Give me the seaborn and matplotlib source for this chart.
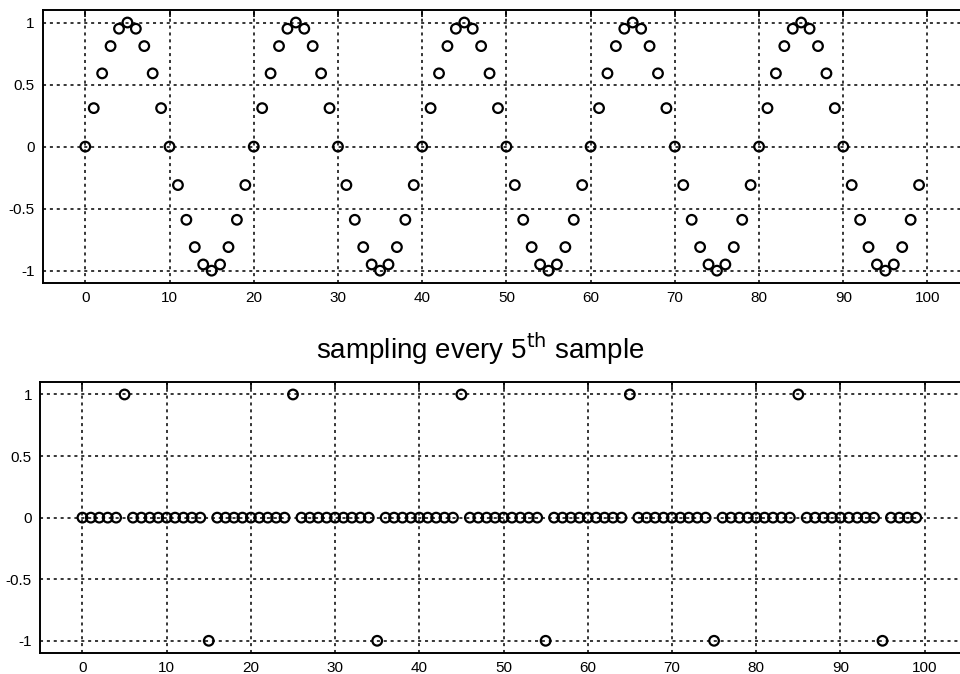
import matplotlib
matplotlib.use("Agg")
import matplotlib.pyplot as plt
import numpy as np
import pandas as pd
import seaborn as sns

# ============================================================
# DATA
# ============================================================

n = list(range(100))

# original signal, one row per period of 20 samples
signal = [
    0.0, 0.31, 0.59, 0.81, 0.95, 1.0, 0.95, 0.81, 0.59, 0.31,
    0.0, -0.31, -0.59, -0.81, -0.95, -1.0, -0.95, -0.81, -0.59, -0.31,
    0.0, 0.31, 0.59, 0.81, 0.95, 1.0, 0.95, 0.81, 0.59, 0.31,
    0.0, -0.31, -0.59, -0.81, -0.95, -1.0, -0.95, -0.81, -0.59, -0.31,
    0.0, 0.31, 0.59, 0.81, 0.95, 1.0, 0.95, 0.81, 0.59, 0.31,
    0.0, -0.31, -0.59, -0.81, -0.95, -1.0, -0.95, -0.81, -0.59, -0.31,
    0.0, 0.31, 0.59, 0.81, 0.95, 1.0, 0.95, 0.81, 0.59, 0.31,
    0.0, -0.31, -0.59, -0.81, -0.95, -1.0, -0.95, -0.81, -0.59, -0.31,
    0.0, 0.31, 0.59, 0.81, 0.95, 1.0, 0.95, 0.81, 0.59, 0.31,
    0.0, -0.31, -0.59, -0.81, -0.95, -1.0, -0.95, -0.81, -0.59, -0.31,
]

# every 5th sample kept, the rest set to zero
sampled = [
    0, 0, 0, 0, 0, 1, 0, 0, 0, 0, 0, 0, 0, 0, 0, -1, 0, 0, 0, 0,
    0, 0, 0, 0, 0, 1, 0, 0, 0, 0, 0, 0, 0, 0, 0, -1, 0, 0, 0, 0,
    0, 0, 0, 0, 0, 1, 0, 0, 0, 0, 0, 0, 0, 0, 0, -1, 0, 0, 0, 0,
    0, 0, 0, 0, 0, 1, 0, 0, 0, 0, 0, 0, 0, 0, 0, -1, 0, 0, 0, 0,
    0, 0, 0, 0, 0, 1, 0, 0, 0, 0, 0, 0, 0, 0, 0, -1, 0, 0, 0, 0,
]

x_ticks = [0, 10, 20, 30, 40, 50, 60, 70, 80, 90, 100]
y_ticks = [-1, -0.5, 0, 0.5, 1]
y_ticklabels = ["-1", "-0.5", "0", "0.5", "1"]

TITLE = "sampling every 5$^{\\mathrm{th}}$ sample"

# ============================================================
# PLOT
# ============================================================

sns.set_style("white")
plt.rcParams["font.family"] = ["Liberation Sans", "DejaVu Sans"]
plt.rcParams["text.color"] = "black"

fig = plt.figure(figsize=(9.6, 6.74), dpi=100)
ax_top = fig.add_axes([0.045, 0.580, 0.965, 0.405])
ax_bot = fig.add_axes([0.042, 0.031, 0.965, 0.402])

df_top = pd.DataFrame({"n": n, "x": signal})
df_bot = pd.DataFrame({"n": n, "x": sampled})


def style_axes(ax):
    ax.set_xlim(-5, 105)
    ax.set_ylim(-1.1, 1.1)
    ax.set_xticks(x_ticks)
    ax.set_yticks(y_ticks)
    ax.set_yticklabels(y_ticklabels)
    ax.set_xlabel("")
    ax.set_ylabel("")
    ax.grid(True, color="black", linestyle=(0, (2, 2.5)), linewidth=1.1)
    ax.set_axisbelow(True)
    ax.tick_params(axis="both", direction="in", length=5, width=1.2,
                   top=True, right=True, labelsize=11, colors="black", pad=6)
    for sp in ax.spines.values():
        sp.set_visible(True)
        sp.set_color("black")
        sp.set_linewidth(1.4)


for ax, df in [(ax_top, df_top), (ax_bot, df_bot)]:
    sns.scatterplot(data=df, x="n", y="x", ax=ax, marker="o", s=48,
                    facecolor="none", edgecolor="black", linewidth=1.6,
                    zorder=3)
    style_axes(ax)

fig.text(0.5, 0.482, TITLE, ha="center", va="center", fontsize=20,
         color="black")

fig.savefig("out.png", dpi=100)
